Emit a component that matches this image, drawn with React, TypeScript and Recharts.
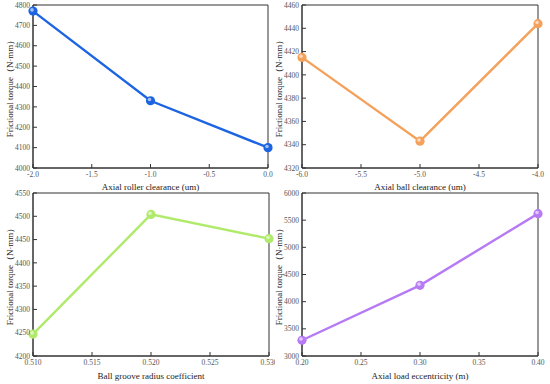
import { LineChart, Line, XAxis, YAxis, ReferenceArea } from "recharts";

// axial roller clearance
const rollerClearance = [-2, -1, 0];
const rollerTorque = [4770, 4330, 4100];
const rollerXTicks = [-2, -1.5, -1, -0.5, 0];
const rollerXMinor = [-1.75, -1.25, -0.75, -0.25];
const rollerYTicks = [4000, 4100, 4200, 4300, 4400, 4500, 4600, 4700, 4800];
const rollerYMinor = [4050, 4150, 4250, 4350, 4450, 4550, 4650, 4750];

// axial ball clearance
const ballClearance = [-6, -5, -4];
const ballTorque = [4415, 4343, 4444];
const ballXTicks = [-6, -5.5, -5, -4.5, -4];
const ballXMinor = [-5.75, -5.25, -4.75, -4.25];
const ballYTicks = [4320, 4340, 4360, 4380, 4400, 4420, 4440, 4460];
const ballYMinor = [4330, 4350, 4370, 4390, 4410, 4430, 4450];

// groove radius coefficient
const grooveCoef = [0.51, 0.52, 0.53];
const grooveTorque = [4247, 4504, 4452];
const grooveXTicks = [0.51, 0.515, 0.52, 0.525, 0.53];
const grooveXMinor = [0.5125, 0.5175, 0.5225, 0.5275];
const grooveYTicks = [4200, 4250, 4300, 4350, 4400, 4450, 4500, 4550];
const grooveYMinor = [4225, 4275, 4325, 4375, 4425, 4475, 4525];

// axial load eccentricity
const eccentricity = [0.2, 0.3, 0.4];
const eccTorque = [3290, 4300, 5620];
const eccXTicks = [0.2, 0.25, 0.3, 0.35, 0.4];
const eccXMinor = [0.225, 0.275, 0.325, 0.375];
const eccYTicks = [3000, 3500, 4000, 4500, 5000, 5500, 6000];
const eccYMinor = [3250, 3750, 4250, 4750, 5250, 5750];

const yLabel = "Frictional torque（N·mm）";
const FONT = "'Liberation Serif', 'Times New Roman', serif";
const AXIS = "#333";

const ball = (color: string) => (props: any) => {
  const { cx, cy } = props;
  if (cx == null || cy == null) return <g key={Math.random()} />;
  return (
    <g key={`${cx}-${cy}`}>
      <circle cx={cx} cy={cy} r={4.6} fill={color} />
      <circle cx={cx - 1} cy={cy - 1.2} r={1.8} fill="#fff" opacity={0.6} />
    </g>
  );
};

function Panel(p: {
  xs: number[];
  ys: number[];
  xTicks: number[];
  xMinor: number[];
  yTicks: number[];
  yMinor: number[];
  digits: number;
  color: string;
  xLabel: string;
  left: number;
  top: number;
  width: number;
  height: number;
  margin: { top: number; right: number; left: number; bottom: number };
  yWidth: number;
  xHeight: number;
  labelOffset: number;
  yLabelOffset: number;
}) {
  const data = p.xs.map((x, i) => ({ x, y: p.ys[i] }));
  const xd = [p.xTicks[0], p.xTicks[p.xTicks.length - 1]];
  const yd = [p.yTicks[0], p.yTicks[p.yTicks.length - 1]];
  const tickStyle = { fontSize: 7.5, fill: "#555", fontFamily: FONT };
  return (
    <div style={{ position: "absolute", left: p.left, top: p.top }}>
      <LineChart width={p.width} height={p.height} data={data} margin={p.margin}>
        <XAxis
          xAxisId="m"
          dataKey="x"
          type="number"
          domain={xd}
          ticks={p.xMinor}
          height={0}
          tick={false}
          tickSize={-2}
          axisLine={false}
          tickLine={{ stroke: AXIS }}
        />
        <XAxis
          dataKey="x"
          type="number"
          domain={xd}
          ticks={p.xTicks}
          height={p.xHeight}
          tickSize={-4}
          tickMargin={8}
          tick={tickStyle}
          tickFormatter={(v) => Number(v).toFixed(p.digits)}
          axisLine={{ stroke: AXIS }}
          tickLine={{ stroke: AXIS }}
          interval={0}
          label={{
            value: p.xLabel,
            position: "insideBottom",
            offset: p.labelOffset,
            style: { fontSize: 9, fill: "#222", fontFamily: FONT },
          }}
        />
        <YAxis
          yAxisId="m"
          type="number"
          domain={yd}
          ticks={p.yMinor}
          width={0}
          tick={false}
          tickSize={-2}
          axisLine={false}
          tickLine={{ stroke: AXIS }}
        />
        <YAxis
          type="number"
          domain={yd}
          ticks={p.yTicks}
          width={p.yWidth}
          tickSize={-4}
          tickMargin={7}
          tick={tickStyle}
          interval={0}
          axisLine={{ stroke: AXIS }}
          tickLine={{ stroke: AXIS }}
          label={{
            value: yLabel,
            angle: -90,
            position: "insideLeft",
            offset: p.yLabelOffset,
            style: { fontSize: 9, fill: "#222", fontFamily: FONT, textAnchor: "middle" },
          }}
        />
        <ReferenceArea
          x1={xd[0]}
          x2={xd[1]}
          y1={yd[0]}
          y2={yd[1]}
          fill="none"
          stroke={AXIS}
          strokeWidth={1}
          ifOverflow="visible"
        />
        <Line
          dataKey="y"
          stroke={p.color}
          strokeWidth={2.4}
          dot={ball(p.color)}
          activeDot={false}
          isAnimationActive={false}
        />
      </LineChart>
    </div>
  );
}

export default function App() {
  return (
    <div
      style={{
        position: "absolute",
        left: 0,
        top: 0,
        width: 550,
        height: 384,
        background: "#fff",
        overflow: "hidden",
      }}
    >
      <Panel
        xs={rollerClearance}
        ys={rollerTorque}
        xTicks={rollerXTicks}
        xMinor={rollerXMinor}
        yTicks={rollerYTicks}
        yMinor={rollerYMinor}
        digits={1}
        color="#1c64e2"
        xLabel="Axial roller clearance (um)"
        left={0}
        top={0}
        width={275}
        height={192}
        margin={{ top: 5, right: 7, left: 3, bottom: 0 }}
        yWidth={30}
        xHeight={24}
        labelOffset={2}
        yLabelOffset={7}
      />
      <Panel
        xs={ballClearance}
        ys={ballTorque}
        xTicks={ballXTicks}
        xMinor={ballXMinor}
        yTicks={ballYTicks}
        yMinor={ballYMinor}
        digits={1}
        color="#f4a15c"
        xLabel="Axial ball clearance (um)"
        left={275}
        top={0}
        width={275}
        height={192}
        margin={{ top: 5, right: 12, left: 0, bottom: 0 }}
        yWidth={27}
        xHeight={24}
        labelOffset={2}
        yLabelOffset={4}
      />
      <Panel
        xs={grooveCoef}
        ys={grooveTorque}
        xTicks={grooveXTicks}
        xMinor={grooveXMinor}
        yTicks={grooveYTicks}
        yMinor={grooveYMinor}
        digits={3}
        color="#b0ea6a"
        xLabel="Ball groove radius coefficient"
        left={0}
        top={188}
        width={275}
        height={196}
        margin={{ top: 5, right: 6, left: 3, bottom: 0 }}
        yWidth={30}
        xHeight={28}
        labelOffset={5}
        yLabelOffset={7}
      />
      <Panel
        xs={eccentricity}
        ys={eccTorque}
        xTicks={eccXTicks}
        xMinor={eccXMinor}
        yTicks={eccYTicks}
        yMinor={eccYMinor}
        digits={2}
        color="#b67af4"
        xLabel="Axial load eccentricity (m)"
        left={275}
        top={188}
        width={275}
        height={196}
        margin={{ top: 5, right: 12, left: 0, bottom: 0 }}
        yWidth={27}
        xHeight={28}
        labelOffset={5}
        yLabelOffset={4}
      />
    </div>
  );
}
